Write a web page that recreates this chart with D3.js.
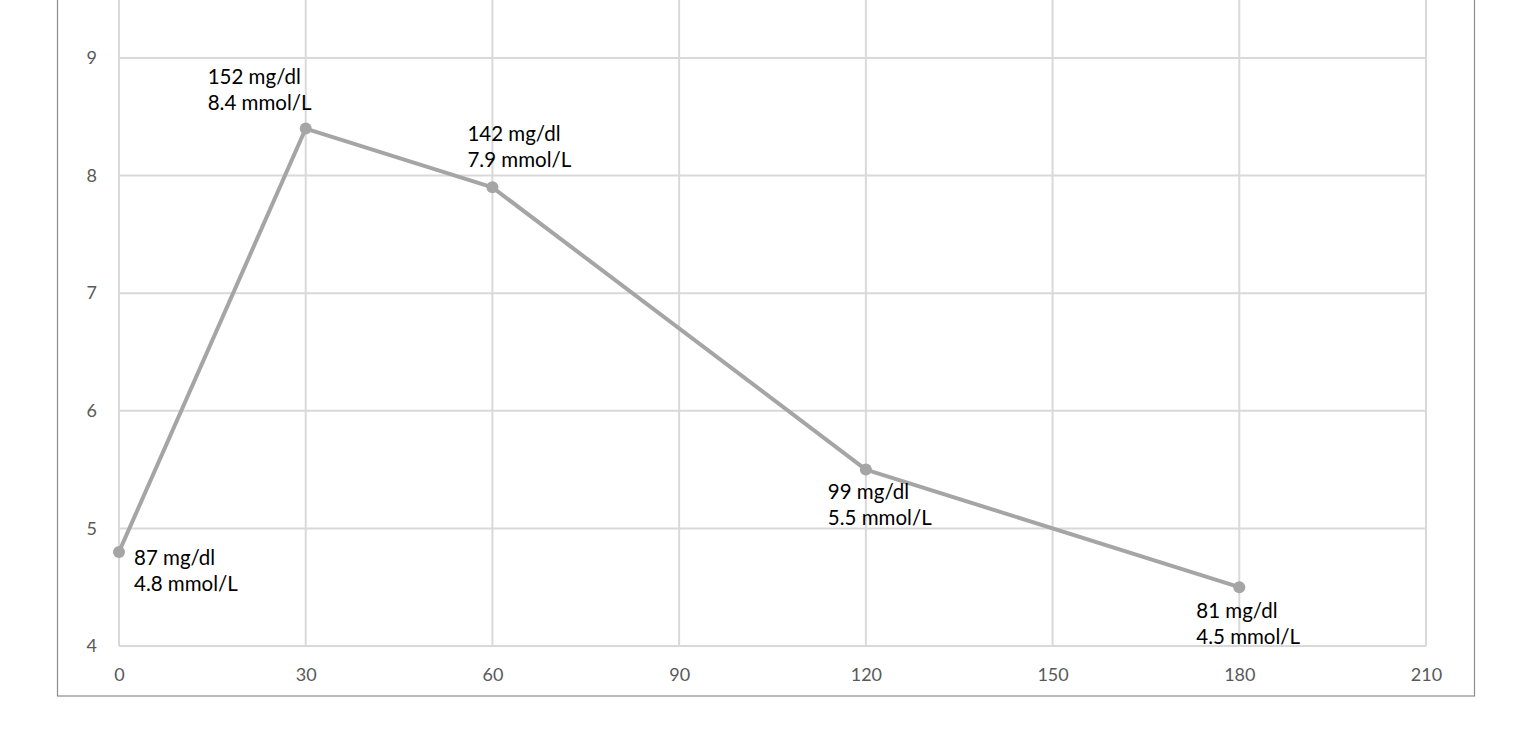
<!DOCTYPE html>
<html><head><meta charset="utf-8">
<script src="https://cdn.jsdelivr.net/npm/d3@7"></script>
<style>body{margin:0;background:#fff}svg{display:block}</style>
</head><body>
<svg id="c" width="1517" height="749"></svg>
<script>
const minutes = [0, 30, 60, 120, 180];
const mmol = [4.8, 8.4, 7.9, 5.5, 4.5];
const mgdl = [87, 152, 142, 99, 81];
const xTicks = [0, 30, 60, 90, 120, 150, 180, 210];
const yTicks = [4, 5, 6, 7, 8, 9];
// label placement (dx, dy of first line relative to point)
const labelOffsets = [[15, 5], [-98, -53], [-25, -54], [-38, 21], [-43, 23]];

const svg = d3.select("#c");
const font = "Lato, 'Open Sans', sans-serif";
const x = d3.scaleLinear().domain([0, 210]).range([119, 1426]);
const y = d3.scaleLinear().domain([4, 10]).range([646, 646 - 6 * 117.6]);

// outer border
svg.append("rect").attr("x", 57.5).attr("y", -20).attr("width", 1417).attr("height", 716)
  .attr("fill", "none").attr("stroke", "#8c8c8c").attr("stroke-width", 1.2);

// gridlines
svg.append("g").selectAll("line").data(yTicks).join("line")
  .attr("x1", x(0)).attr("x2", x(210)).attr("y1", d => y(d)).attr("y2", d => y(d))
  .attr("stroke", "#d9d9d9").attr("stroke-width", 2);
svg.append("g").selectAll("line").data(xTicks).join("line")
  .attr("y1", y(4)).attr("y2", y(10)).attr("x1", d => x(d)).attr("x2", d => x(d))
  .attr("stroke", "#d9d9d9").attr("stroke-width", 2);

// axes
const xAxis = svg.append("g").attr("transform", `translate(0,${y(4)})`)
  .call(d3.axisBottom(x).tickValues(xTicks).tickFormat(d3.format("d")).tickSize(0).tickPadding(22));
const yAxis = svg.append("g").attr("transform", `translate(${x(0)},0)`)
  .call(d3.axisLeft(y).tickValues(yTicks).tickFormat(d3.format("d")).tickSize(0).tickPadding(22));
[xAxis, yAxis].forEach(a => {
  a.select(".domain").remove();
  a.selectAll("text").attr("font-family", font).attr("font-size", 18).attr("fill", "#595959");
});

const pts = minutes.map((m, i) => ({m, v: mmol[i], g: mgdl[i], i}));

svg.append("path").datum(pts)
  .attr("d", d3.line().x(d => x(d.m)).y(d => y(d.v)))
  .attr("fill", "none").attr("stroke", "#a5a5a5").attr("stroke-width", 4).attr("stroke-linejoin", "round");

svg.append("g").selectAll("circle").data(pts).join("circle")
  .attr("cx", d => x(d.m)).attr("cy", d => y(d.v)).attr("r", 6).attr("fill", "#a5a5a5");

const lbl = svg.append("g").selectAll("text").data(pts).join("text")
  .attr("font-family", font).attr("font-size", 20.5).attr("fill", "#000")
  .attr("x", d => x(d.m) + labelOffsets[d.i][0])
  .attr("y", d => y(d.v) + labelOffsets[d.i][1]);
lbl.append("tspan").attr("dominant-baseline", "central").text(d => `${d.g} mg/dl`);
lbl.append("tspan").attr("dominant-baseline", "central")
  .attr("x", d => x(d.m) + labelOffsets[d.i][0]).attr("dy", 26).text(d => `${d.v} mmol/L`);
</script>
</body></html>
